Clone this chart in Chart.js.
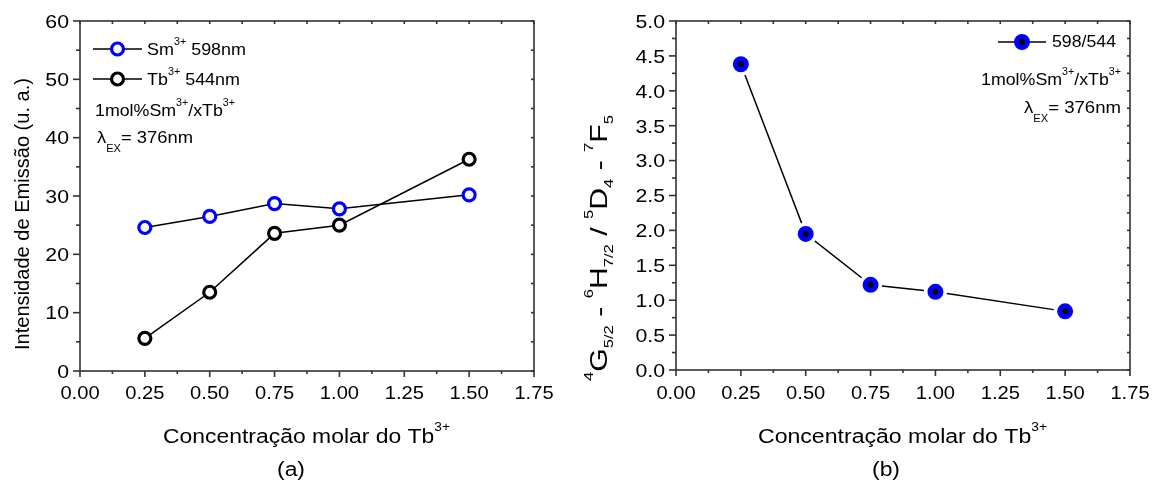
<!DOCTYPE html>
<html>
<head>
<meta charset="utf-8">
<script src="https://cdn.jsdelivr.net/npm/chart.js@4.4.0/dist/chart.umd.min.js"></script>
<style>
  html, body { margin: 0; padding: 0; background: #fff; }
  #wrap { position: relative; width: 1160px; height: 482px; }
  #wrap canvas { position: absolute; left: 0; top: 0; }
</style>
</head>
<body>
<div id="wrap">
  <canvas id="chartA" width="1160" height="482"></canvas>
  <canvas id="chartB" width="1160" height="482"></canvas>
</div>
<script>
// values
const concTb = [0.25, 0.50, 0.75, 1.00, 1.50];
const sm598 = [24.6, 26.5, 28.7, 27.8, 30.2];
const tb544 = [5.6, 13.5, 23.6, 25.0, 36.3];
const ratio598544 = [4.38, 1.95, 1.22, 1.12, 0.84];

// axis ranges / steps
const xRange = [0, 1.75], xStep = 0.25;
const yRangeA = [0, 60], yStepA = 10;
const yRangeB = [0, 5], yStepB = 0.5;

const FONT = '"Liberation Sans", Arial, sans-serif';
const AXIS = '#333';
const BLUE = '#0000ff';

function toPts(xs, ys) {
  return xs.map((x, i) => ({ x: x, y: ys[i] }));
}

// text with superscripts (1) and subscripts (-1), optionally stretched to a width
function richWidth(ctx, parts, size, o) {
  let w = 0;
  parts.forEach(p => {
    ctx.font = (p[1] ? size * o.small : size) + 'px ' + FONT;
    w += ctx.measureText(p[0]).width;
  });
  return w;
}

function drawRich(ctx, parts, x, y, size, align, target, opt) {
  const o = Object.assign({ small: 0.6, sup: 0.6, sub: 0.5, stretch: 1 }, opt || {});
  const w = richWidth(ctx, parts, size, o);
  const sx = target ? target / w : o.stretch;
  const tw = w * sx;
  const x0 = align === 'left' ? x : align === 'right' ? x - tw : x - tw / 2;
  ctx.save();
  ctx.translate(x0, y);
  ctx.scale(sx, 1);
  ctx.textAlign = 'left';
  ctx.textBaseline = 'alphabetic';
  ctx.fillStyle = '#000';
  let cx = 0;
  parts.forEach(p => {
    const s = p[1] ? size * o.small : size;
    ctx.font = s + 'px ' + FONT;
    const dy = p[1] === 1 ? -size * o.sup : p[1] === -1 ? size * o.sub : 0;
    ctx.fillText(p[0], cx, dy);
    cx += ctx.measureText(p[0]).width;
  });
  ctx.restore();
}

function drawMarker(ctx, ds, x, y) {
  ctx.beginPath();
  ctx.arc(x, y, ds.pointRadius, 0, Math.PI * 2);
  ctx.fillStyle = ds.pointBackgroundColor;
  ctx.fill();
  ctx.lineWidth = ds.pointBorderWidth;
  ctx.strokeStyle = ds.pointBorderColor;
  ctx.stroke();
}

// frame, ticks, labels, titles, legend
const panelDecor = {
  id: 'panelDecor',
  afterDraw(chart, args, o) {
    const ctx = chart.ctx;
    const a = chart.chartArea;
    const xs = chart.scales.x, ys = chart.scales.y;
    ctx.save();
    ctx.strokeStyle = AXIS;
    ctx.lineWidth = 1.6;
    ctx.strokeRect(a.left, a.top, a.right - a.left, a.bottom - a.top);

    const tick = (x1, y1, x2, y2) => {
      ctx.beginPath(); ctx.moveTo(x1, y1); ctx.lineTo(x2, y2); ctx.stroke();
    };

    // x axis
    const xv = xs.ticks.map(t => t.value);
    xv.forEach((v, i) => {
      const px = xs.getPixelForValue(v);
      tick(px, a.bottom, px, a.bottom + 6);
      tick(px, a.top, px, a.top + 3);
      drawRich(ctx, [[v.toFixed(2), 0]], px, 399, 19, 'center', null, { stretch: 1.06 });
      if (i < xv.length - 1) {
        const pm = xs.getPixelForValue((v + xv[i + 1]) / 2);
        tick(pm, a.bottom, pm, a.bottom + 3);
        tick(pm, a.top, pm, a.top + 3);
      }
    });
    // y axis
    const yv = ys.ticks.map(t => t.value);
    yv.forEach((v, i) => {
      const py = ys.getPixelForValue(v);
      tick(a.left - 7, py, a.left, py);
      tick(a.right - 3, py, a.right, py);
      drawRich(ctx, [[v.toFixed(o.yDec), 0]], a.left - 11, py + 6.8, 19, 'right', null, { stretch: 1.12 });
      if (i < yv.length - 1) {
        const pm = ys.getPixelForValue((v + yv[i + 1]) / 2);
        tick(a.left - 4, pm, a.left, pm);
        tick(a.right - 3, pm, a.right, pm);
      }
    });

    // x title
    const xt = o.xTitle;
    drawRich(ctx, [['Concentração molar do Tb', 0], ['3+', 1]], xt.x, xt.y, 20, 'center', xt.width);

    // y title (rotated)
    const yt = o.yTitle;
    ctx.save();
    ctx.translate(yt.x, yt.y);
    ctx.rotate(-Math.PI / 2);
    drawRich(ctx, yt.parts, 0, 0, yt.size, 'center', yt.width, yt.opt);
    ctx.restore();

    // panel label
    drawRich(ctx, [[o.panel.text, 0]], o.panel.x, o.panel.y, 20, 'center', o.panel.width);

    // legend entries
    o.legend.forEach(l => {
      const ds = chart.data.datasets[l.ds];
      ctx.strokeStyle = '#000';
      ctx.lineWidth = 1.5;
      tick(l.x1, l.y, l.x2, l.y);
      drawMarker(ctx, ds, (l.x1 + l.x2) / 2, l.y);
      drawRich(ctx, l.parts, l.tx, l.ty, 17, 'left', l.width);
    });

    // notes
    o.notes.forEach(n => {
      drawRich(ctx, n.parts, n.x, n.y, 17, n.align, n.width);
    });
    ctx.restore();
  }
};

const noteConc = [['1mol%Sm', 0], ['3+', 1], ['/xTb', 0], ['3+', 1]];
const noteExc = [['λ', 0], ['EX', -1], ['= 376nm', 0]];

function baseOptions(pad, yRange, yStep, decor) {
  return {
    responsive: false,
    animation: false,
    devicePixelRatio: 1,
    layout: { padding: pad },
    scales: {
      x: { type: 'linear', min: xRange[0], max: xRange[1], display: false, ticks: { stepSize: xStep } },
      y: { type: 'linear', min: yRange[0], max: yRange[1], display: false, ticks: { stepSize: yStep } }
    },
    plugins: {
      legend: { display: false },
      tooltip: { enabled: false },
      panelDecor: decor
    }
  };
}

// (a) emission intensities
new Chart(document.getElementById('chartA'), {
  type: 'line',
  data: {
    datasets: [
      {
        label: 'Sm3+ 598nm',
        data: toPts(concTb, sm598),
        borderColor: '#000', borderWidth: 1.5,
        pointRadius: 6, pointBorderWidth: 3.2,
        pointBorderColor: BLUE, pointBackgroundColor: '#fff'
      },
      {
        label: 'Tb3+ 544nm',
        data: toPts(concTb, tb544),
        borderColor: '#000', borderWidth: 1.5,
        pointRadius: 6, pointBorderWidth: 3.2,
        pointBorderColor: '#000', pointBackgroundColor: '#fff'
      }
    ]
  },
  options: baseOptions({ left: 80, top: 21, right: 626, bottom: 111 }, yRangeA, yStepA, {
    yDec: 0,
    xTitle: { x: 306.5, y: 443, width: 287 },
    yTitle: { parts: [['Intensidade de Emissão (u. a.)', 0]], x: 28.5, y: 214, size: 20, width: 272 },
    panel: { text: '(a)', x: 291, y: 476, width: 28 },
    legend: [
      { ds: 0, x1: 93, x2: 142, y: 49, parts: [['Sm', 0], ['3+', 1], [' 598nm', 0]], tx: 147, ty: 55, width: 99 },
      { ds: 1, x1: 93, x2: 142, y: 79, parts: [['Tb', 0], ['3+', 1], [' 544nm', 0]], tx: 147, ty: 85, width: 93 }
    ],
    notes: [
      { parts: noteConc, x: 95, y: 116, align: 'left', width: 140 },
      { parts: noteExc, x: 97, y: 143, align: 'left', width: 96 }
    ]
  }),
  plugins: [panelDecor]
});

// (b) ratio 598/544
new Chart(document.getElementById('chartB'), {
  type: 'line',
  data: {
    datasets: [
      {
        label: '598/544',
        data: toPts(concTb, ratio598544),
        showLine: false, order: 1,
        pointRadius: 5.5, pointBorderWidth: 5,
        pointBorderColor: BLUE, pointBackgroundColor: '#000'
      },
      {
        label: 'gap',
        data: toPts(concTb, ratio598544),
        showLine: false, order: 2,
        pointRadius: 11.5, pointBorderWidth: 0,
        pointBorderColor: '#fff', pointBackgroundColor: '#fff'
      },
      {
        label: 'line',
        data: toPts(concTb, ratio598544),
        order: 3,
        borderColor: '#000', borderWidth: 1.5, pointRadius: 0
      }
    ]
  },
  options: baseOptions({ left: 676, top: 21, right: 30, bottom: 112 }, yRangeB, yStepB, {
    yDec: 1,
    xTitle: { x: 902.5, y: 443, width: 289 },
    yTitle: {
      parts: [['4', 1], ['G', 0], ['5/2', -1], [' - ', 0], ['6', 1], ['H', 0], ['7/2', -1], [' / ', 0],
              ['5', 1], ['D', 0], ['4', -1], [' - ', 0], ['7', 1], ['F', 0], ['5', -1]],
      x: 607, y: 248, size: 24, width: 266,
      opt: { small: 0.55, sup: 0.58, sub: 0.25 }
    },
    panel: { text: '(b)', x: 886, y: 476, width: 28 },
    legend: [
      { ds: 0, x1: 998, x2: 1046, y: 42, parts: [['598/544', 0]], tx: 1052, ty: 47, width: 64 }
    ],
    notes: [
      { parts: noteConc, x: 1121, y: 85, align: 'right', width: 140 },
      { parts: noteExc, x: 1121, y: 113, align: 'right', width: 97 }
    ]
  }),
  plugins: [panelDecor]
});
</script>
</body>
</html>
